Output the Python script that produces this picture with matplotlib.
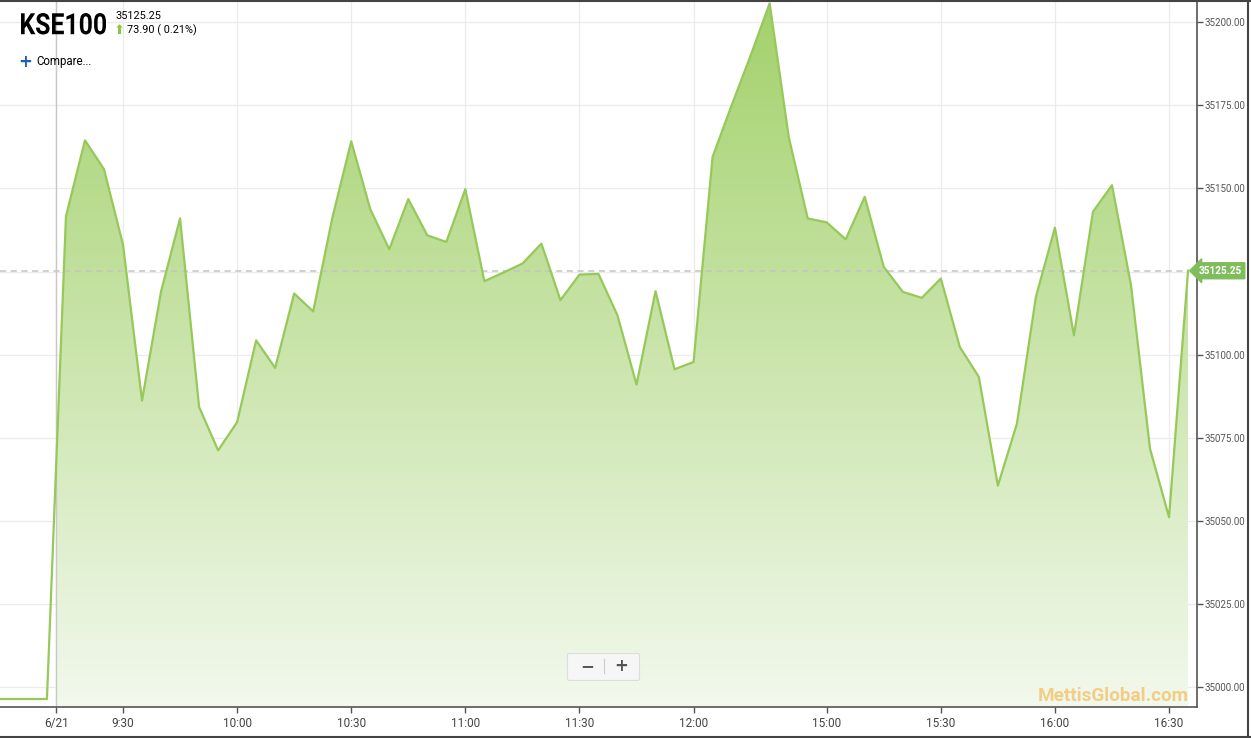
import numpy as np
import matplotlib
matplotlib.use("Agg")
import matplotlib.pyplot as plt
from matplotlib.lines import Line2D
from matplotlib.patches import FancyBboxPatch, PathPatch
from matplotlib.textpath import TextPath
from matplotlib.font_manager import FontProperties
from matplotlib.transforms import Affine2D, IdentityTransform

plt.rcParams["font.family"] = ["Roboto", "DejaVu Sans"]

# KSE100 intraday, 5-minute steps (index 0 = 9:15)
prev_x = [-4, -3, -2, -1]
prev_vals = [34996.4, 34996.4, 34996.4, 34996.4]
vals = [35141.6, 35164.5, 35155.8, 35133.1, 35086.2, 35119.0, 35141.0, 35084.3,
        35071.2, 35079.7, 35104.3, 35096.0, 35118.4, 35113.0, 35141.0, 35164.2,
        35143.8, 35131.7, 35146.8, 35135.9, 35133.9, 35149.8, 35122.1, 35124.7,
        35127.4, 35133.4, 35116.4, 35124.1, 35124.3, 35111.8, 35091.0, 35119.1,
        35095.6, 35097.8, 35159.5, 35175.0, 35190.0, 35205.7, 35165.6, 35141.0,
        35139.8, 35134.7, 35147.5, 35126.4, 35118.9, 35117.1, 35122.9, 35102.3,
        35093.3, 35060.6, 35079.2, 35117.4, 35138.2, 35105.8, 35143.0, 35151.0,
        35120.9, 35071.7, 35051.1, 35125.25]
tick_pos = [-0.5, 3, 9, 15, 21, 27, 33, 40, 46, 52, 58]
tick_lbl = ["6/21", "9:30", "10:00", "10:30", "11:00", "11:30", "12:00",
            "15:00", "15:30", "16:00", "16:30"]
y_ticks = [35000, 35025, 35050, 35075, 35100, 35125, 35150, 35175, 35200]
last_val = 35125.25
change, change_pct = 73.90, 0.21

W, H = 1251, 738
fig = plt.figure(figsize=(W / 100, H / 100), dpi=100)
ax = fig.add_axes([0, 31 / H, 1197 / W, 706 / H])

x = np.arange(len(vals))
ymin, ymax = 34994.0, 35206.4
ax.set_xlim(-3.468, 59.47)
ax.set_ylim(ymin, ymax)

line_c = "#96c85a"
# gradient fill, clipped to the area under today's line
x0 = -0.5
v0 = (prev_vals[-1] + vals[0]) / 2
fx = np.concatenate([[x0], x])
fy = np.concatenate([[v0], vals])
poly = ax.fill_between(fx, fy, ymin, color="none", lw=0)
top = np.array([0.64, 0.82, 0.42])
bot = np.array([0.95, 0.975, 0.93])
t = np.linspace(0, 1, 256)[:, None]
grad = (top * (1 - t) + bot * t)[:, None, :]
im = ax.imshow(grad, extent=[x0, x[-1], ymin, ymax], aspect="auto",
               origin="upper", zorder=1)
im.set_clip_path(poly.get_paths()[0], transform=ax.transData)

ax.plot(np.concatenate([prev_x, x]), np.concatenate([prev_vals, vals]),
        color=line_c, lw=1.6, zorder=3)

xl = ax.get_xlim()
ax.axhline(last_val, xmax=(x[-1] - xl[0]) / (xl[1] - xl[0]),
           color="#c4c4c4", lw=1.1, ls=(0, (4, 3)), zorder=2)
ax.axvline(-0.5, color="#c8c8c8", lw=1.0, zorder=2)

# grid and axes (35125 label sits under the last-value flag)
ax.set_xticks(tick_pos)
ax.set_xticklabels(tick_lbl)
ax.set_yticks(y_ticks)
ax.set_yticklabels(["" if v == 35125 else f"{v:.2f}" for v in y_ticks])
ax.yaxis.tick_right()
ax.grid(True, color="#ebebeb", lw=0.9, zorder=0)
ax.set_axisbelow(True)
ax.tick_params(axis="x", length=4, width=1, color="#555555", labelsize=8.5,
               labelcolor="#444444", pad=3)
ax.tick_params(axis="y", length=4, width=1, color="#555555", labelsize=7.0,
               labelcolor="#555555", pad=1.5)
for s in ["top", "left"]:
    ax.spines[s].set_visible(False)
for s in ["bottom", "right"]:
    ax.spines[s].set_color("#555555")
    ax.spines[s].set_linewidth(1.2)

# last value flag
ax.text(59.55, last_val, f"{last_val:.2f}", color="white", fontsize=7.2,
        fontweight="bold", ha="left", va="center", clip_on=False, zorder=5,
        bbox=dict(boxstyle="larrow,pad=0.3", fc="#7fbd5c", ec="#7fbd5c"))


def fp(px, py):
    return px / W, 1 - py / H


# header: condensed bold title, squeezed to the reference box
tp = TextPath((0, 0), "KSE100", size=30,
              prop=FontProperties(family="Roboto", weight="bold"))
bb = tp.get_extents()
sx, sy = 85 / bb.width, 21.5 / bb.height
tr = Affine2D().translate(-bb.x0, -bb.y0).scale(sx, sy).translate(21, H - 34.5)
fig.add_artist(PathPatch(tp, fc="black", ec="none",
                         transform=tr + IdentityTransform()))

fig.text(*fp(115, 16), f"{last_val:.2f}", fontsize=7.8, va="center", ha="left")
fig.text(*fp(119, 30.5), "\u2b06", fontsize=9.5, color="#8cc63f", va="center",
         ha="center", family=["DejaVu Sans"])
fig.text(*fp(127, 30), f"{change:.2f} ( {change_pct:.2f}%)", fontsize=7.8,
         va="center", ha="left")
fig.text(*fp(25, 62), "+", fontsize=12, fontweight="bold", color="#1f5fb8",
         va="center", ha="center", family=["DejaVu Sans"])
fig.text(*fp(36, 62), "Compare...", fontsize=8.3, va="center", ha="left")

# zoom control
fig.add_artist(FancyBboxPatch(fp(570, 679), 67 / W, 24 / H,
                              boxstyle="round,pad=0.002", fc="#f6f6f6",
                              ec="#dddddd", lw=0.8, transform=fig.transFigure,
                              zorder=6))
fig.text(*fp(587, 666), "\u2212", fontsize=12, fontweight="bold", color="#555555",
         va="center", ha="center", family=["DejaVu Sans"], zorder=7)
fig.text(*fp(621, 666), "+", fontsize=12, fontweight="bold", color="#555555",
         va="center", ha="center", family=["DejaVu Sans"], zorder=7)
fig.add_artist(Line2D([604 / W, 604 / W], [1 - 673 / H, 1 - 659 / H],
                      color="#cccccc", lw=0.8, transform=fig.transFigure, zorder=7))

# watermark
fig.text(*fp(1113, 696), "MettisGlobal.com", fontsize=13.6, fontweight="bold",
         color="#f2c97a", alpha=0.9, va="center", ha="center", zorder=6)

# outer frame
for xs, ys in [([0, 1], [0.999, 0.999]), ([1247.5 / W] * 2, [0, 1]),
               ([0, 1], [1 - 736.5 / H] * 2)]:
    fig.add_artist(Line2D(xs, ys, color="#444444", lw=1.5, transform=fig.transFigure))

fig.savefig("out.png", dpi=100)
